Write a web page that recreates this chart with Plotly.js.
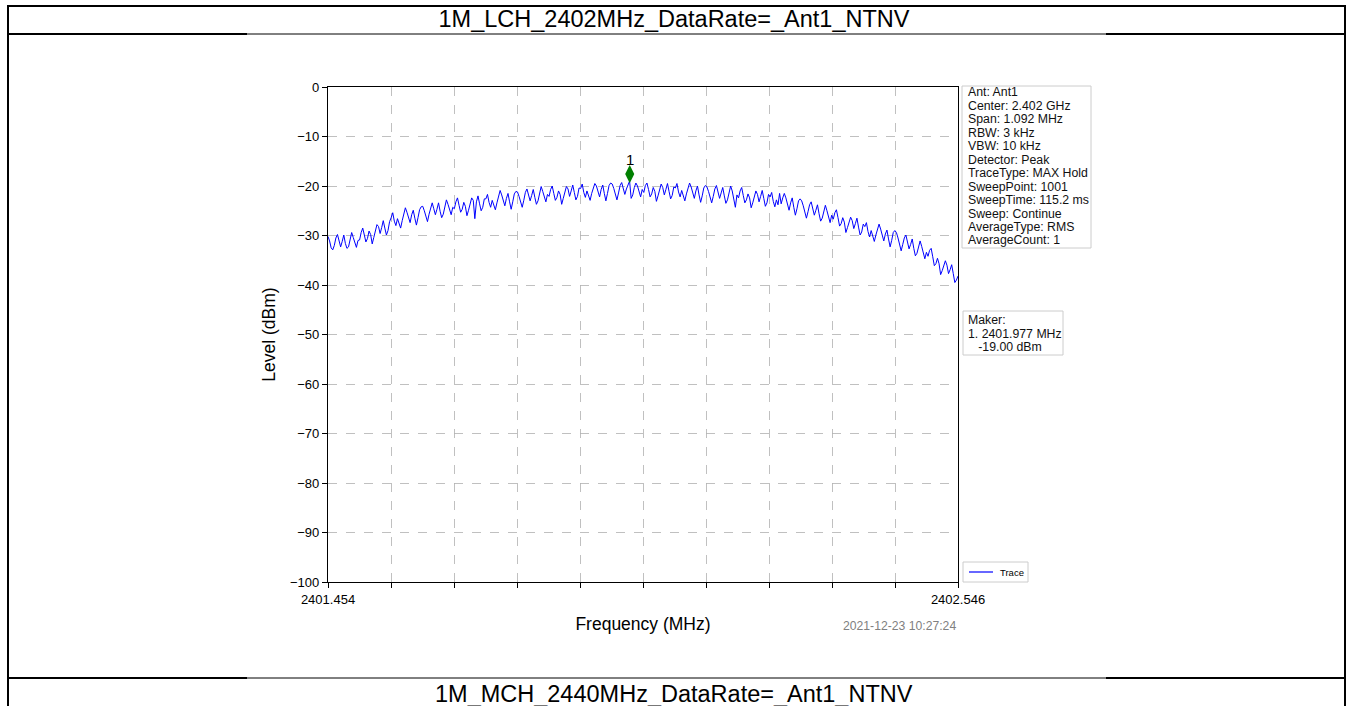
<!DOCTYPE html>
<html><head><meta charset="utf-8">
<script src="https://cdn.plot.ly/plotly-3.0.1.min.js"></script>
<style>html,body{margin:0;padding:0;background:#fff;overflow:hidden}#chart{width:1348px;height:706px}</style>
</head><body><div id="chart"></div>
<script>
// ---------- data ----------
const chartTitle = "1M_LCH_2402MHz_DataRate=_Ant1_NTNV";
const nextTitle = "1M_MCH_2440MHz_DataRate=_Ant1_NTNV";
const freqStart = 2401.454;
const freqStop = 2402.546;
const levels = [
 -30.2,-31.1,-32.5,-32.9,-32.0,-30.5,-29.8,-31.0,-32.3,-31.2,-29.9,-31.6,-32.6,-32.3,-30.8,-29.4,-30.4,-31.6,-32.4,-31.0,
 -30.9,-29.4,-28.5,-29.9,-31.3,-30.6,-29.1,-29.8,-31.7,-30.4,-28.8,-27.8,-28.2,-29.6,-28.4,-27.0,-28.5,-29.9,-29.0,-27.2,
 -26.4,-25.4,-27.1,-28.0,-26.6,-27.4,-28.5,-27.0,-25.6,-24.4,-25.3,-26.6,-27.4,-25.8,-24.9,-26.5,-27.9,-26.4,-24.8,-24.2,
 -24.1,-25.0,-26.3,-27.2,-25.7,-24.2,-23.4,-24.6,-25.8,-24.7,-23.4,-25.1,-26.4,-25.7,-24.1,-22.8,-23.7,-25.0,-25.8,-24.3,
 -24.6,-23.2,-22.4,-23.9,-25.3,-24.7,-23.3,-24.1,-26.0,-24.9,-23.3,-22.4,-22.9,-26.6,-23.2,-22.0,-23.6,-25.0,-24.3,-22.6,
 -22.6,-21.7,-23.3,-24.3,-22.9,-23.8,-24.8,-23.4,-22.0,-20.9,-21.8,-23.1,-24.0,-22.5,-21.5,-23.2,-24.7,-23.2,-21.6,-21.1,
 -21.2,-22.1,-23.4,-24.3,-22.9,-21.3,-20.6,-21.8,-23.0,-21.9,-20.7,-22.3,-23.7,-23.0,-21.4,-20.1,-21.1,-22.3,-23.2,-21.7,
 -22.1,-20.7,-20.0,-21.5,-22.9,-22.3,-21.0,-21.7,-23.7,-22.5,-21.0,-20.1,-20.6,-22.1,-21.0,-19.8,-21.3,-22.8,-22.1,-20.4,
 -20.5,-19.6,-21.3,-22.3,-21.0,-21.8,-22.9,-21.5,-20.2,-19.5,-20.0,-21.4,-22.2,-20.7,-19.8,-21.5,-23.0,-21.5,-19.9,-19.4,
 -19.6,-20.5,-21.9,-22.8,-21.4,-19.9,-19.3,-20.4,-21.7,-20.6,-19.6,-19.0,-22.5,-21.8,-20.3,-19.4,-20.0,-21.3,-22.2,-20.7,
 -21.3,-19.9,-19.4,-20.7,-22.2,-21.6,-20.3,-21.1,-23.1,-22.0,-20.5,-19.6,-20.3,-21.8,-20.7,-19.5,-21.1,-22.6,-21.9,-20.2,
 -20.4,-19.5,-21.2,-22.2,-20.9,-21.9,-23.0,-21.6,-20.3,-19.4,-20.2,-21.6,-22.5,-21.0,-20.0,-21.8,-23.3,-22.0,-20.4,-19.9,
 -20.2,-21.1,-22.5,-23.4,-22.1,-20.6,-19.9,-21.2,-22.5,-21.4,-20.3,-22.0,-23.5,-22.8,-21.3,-20.0,-21.0,-22.4,-24.3,-21.8,
 -22.4,-21.0,-20.3,-21.9,-23.4,-22.8,-21.6,-22.4,-24.4,-23.4,-21.9,-21.0,-21.7,-23.2,-22.1,-20.9,-22.5,-24.1,-23.4,-21.7,
 -22.2,-21.3,-23.1,-24.2,-22.8,-23.8,-21.5,-23.6,-22.4,-21.5,-22.4,-23.9,-24.9,-23.4,-22.4,-24.3,-25.9,-24.6,-23.0,-22.6,
 -23.0,-24.0,-25.5,-26.5,-25.2,-23.8,-23.2,-24.5,-25.9,-24.9,-23.8,-25.6,-27.1,-26.5,-25.1,-23.9,-25.0,-26.4,-27.4,-25.9,
 -26.7,-25.4,-24.8,-26.4,-28.1,-27.6,-26.4,-27.3,-29.4,-28.4,-27.1,-26.3,-27.0,-28.6,-27.6,-26.5,-28.3,-29.9,-29.3,-27.7,
 -28.2,-27.4,-29.2,-30.3,-29.0,-30.0,-31.2,-29.9,-28.7,-27.7,-28.7,-30.2,-31.1,-29.7,-28.9,-30.7,-32.3,-31.0,-29.4,-29.0,
 -29.4,-30.5,-32.0,-33.1,-31.8,-30.5,-29.9,-31.3,-32.7,-31.8,-30.7,-32.6,-34.1,-33.6,-32.2,-31.1,-32.2,-33.7,-34.7,-33.4,
 -34.2,-33.0,-32.6,-34.3,-36.1,-35.7,-34.6,-35.7,-37.9,-37.1,-35.8,-35.1,-36.0,-37.7,-36.9,-35.9,-37.7,-39.5,-39.0,-38.2
];
const xTickVals = [2401.454,2401.5632,2401.6724,2401.7816,2401.8908,2402.0,2402.1092,2402.2184,2402.3276,2402.4368,2402.546];
const xTickText = ["2401.454","","","","","","","","","","2402.546"];
const yTickVals = [0,-10,-20,-30,-40,-50,-60,-70,-80,-90,-100];
const yTickText = ["0","\u221210","\u221220","\u221230","\u221240","\u221250","\u221260","\u221270","\u221280","\u221290","\u2212100"];
const infoLines = ["Ant: Ant1","Center: 2.402 GHz","Span: 1.092 MHz","RBW: 3 kHz","VBW: 10 kHz","Detector: Peak",
  "TraceType: MAX Hold","SweepPoint: 1001","SweepTime: 115.2 ms","Sweep: Continue","AverageType: RMS","AverageCount: 1"];
const makerLines = ["Maker:","1. 2401.977 MHz","\u00a0\u00a0\u00a0-19.00 dBm"];
const markerLabel = "1";
const markerFreq = 2401.977;
const markerLevel = -19.00;
const legendLabel = "Trace";
const timestamp = "2021-12-23 10:27:24";

// ---------- layout helpers (pixel -> paper) ----------
const L = 328, R = 958, T = 87, B = 582;
const px = x => (x - L) / (R - L);
const py = y => (B - y) / (B - T);
const FONT = 'Liberation Sans, Arial, sans-serif';

const freqs = levels.map((_, i) => freqStart + (freqStop - freqStart) * i / (levels.length - 1));

const traces = [
  {x: freqs, y: levels, type: 'scatter', mode: 'lines', name: legendLabel, showlegend: false,
   line: {color: '#0000ff', width: 1}},
  {x: [markerFreq], y: [markerLevel + 1.4], type: 'scatter', mode: 'markers', showlegend: false,
   marker: {symbol: 'diamond-tall', size: 13, color: '#008000', line: {width: 0}}}
];

function hline(y, x0, x1, w, c) {
  return {type: 'line', xref: 'paper', yref: 'paper', x0: px(x0), x1: px(x1), y0: py(y), y1: py(y),
          line: {color: c || '#000', width: w}};
}
function vline(x, y0, y1, w) {
  return {type: 'line', xref: 'paper', yref: 'paper', x0: px(x), x1: px(x), y0: py(y0), y1: py(y1),
          line: {color: '#000', width: w}};
}
function box(x0, x1, y0, y1) {
  return {type: 'rect', xref: 'paper', yref: 'paper', x0: px(x0), x1: px(x1), y0: py(y0), y1: py(y1),
          line: {color: '#cccccc', width: 1}, fillcolor: 'rgba(255,255,255,0.9)', layer: 'above'};
}
const shapes = [
  hline(6, 7, 1346, 2),
  vline(8, 5, 710, 2),
  vline(1345, 5, 710, 2),
  hline(34, 7, 247, 2), hline(34, 247, 1106, 1), hline(34, 1106, 1346, 2),
  hline(678, 7, 247, 2), hline(678, 247, 1106, 1), hline(678, 1106, 1346, 2),
  box(962, 1091, 86, 248),
  box(963, 1063, 311, 355),
  box(963, 1028, 562, 582),
  hline(572, 969, 993, 1.2, '#0000ff')
];

const boxFont = {family: FONT, size: 12.3, color: '#111'};
const annotations = [];
infoLines.forEach((t, i) => annotations.push({
  text: t, xref: 'paper', yref: 'paper', x: px(966), y: py(92.5 + 13.45 * i),
  xanchor: 'left', yanchor: 'middle', showarrow: false, font: boxFont}));
makerLines.forEach((t, i) => annotations.push({
  text: t, xref: 'paper', yref: 'paper', x: px(966), y: py(320 + 13.5 * i),
  xanchor: 'left', yanchor: 'middle', showarrow: false, font: boxFont}));
annotations.push({text: legendLabel, xref: 'paper', yref: 'paper', x: px(998), y: py(572),
  xanchor: 'left', yanchor: 'middle', showarrow: false, font: {family: FONT, size: 9.5, color: '#000'}});
annotations.push({text: markerLabel, x: markerFreq, y: markerLevel, xref: 'x', yref: 'y',
  yshift: 22, showarrow: false, font: {family: FONT, size: 15, color: '#000'}});
annotations.push({text: timestamp, xref: 'paper', yref: 'paper', x: px(958), y: py(626),
  xanchor: 'right', yanchor: 'middle', showarrow: false, font: {family: FONT, size: 12.2, color: '#808080'}});
annotations.push({text: nextTitle, xref: 'paper', yref: 'paper', x: px(674), y: py(694),
  xanchor: 'center', yanchor: 'middle', showarrow: false, font: {family: FONT, size: 23.5, color: '#000'}});

const axisCommon = {
  showline: true, linecolor: '#000', linewidth: 1.2, mirror: true,
  ticks: 'outside', ticklen: 5, tickwidth: 1, tickcolor: '#000',
  showgrid: true, gridcolor: '#b0b0b0', gridwidth: 0.8, griddash: 'dash',
  zeroline: false, automargin: false,
  tickfont: {family: FONT, size: 13, color: '#000'},
  tickmode: 'array'
};

const layout = {
  width: 1348, height: 706,
  margin: {l: L, r: 1348 - R, t: T, b: 706 - B, pad: 0},
  paper_bgcolor: '#fff', plot_bgcolor: '#fff',
  font: {family: FONT, color: '#000'},
  title: {text: chartTitle, xref: 'container', x: 0.5, xanchor: 'center', yref: 'container', y: 1 - 19 / 706,
          yanchor: 'middle', font: {family: FONT, size: 23.5, color: '#000'}},
  xaxis: Object.assign({}, axisCommon, {range: [freqStart, freqStop], tickvals: xTickVals, ticktext: xTickText,
          title: {text: 'Frequency (MHz)', standoff: 12, font: {size: 17.5, family: FONT}}}),
  yaxis: Object.assign({}, axisCommon, {range: [-100, 0], tickvals: yTickVals, ticktext: yTickText,
          title: {text: 'Level (dBm)', standoff: 9, font: {size: 17.5, family: FONT}}}),
  showlegend: false,
  shapes: shapes,
  annotations: annotations
};

Plotly.newPlot('chart', traces, layout, {displayModeBar: false, staticPlot: true});
</script>
</body></html>
